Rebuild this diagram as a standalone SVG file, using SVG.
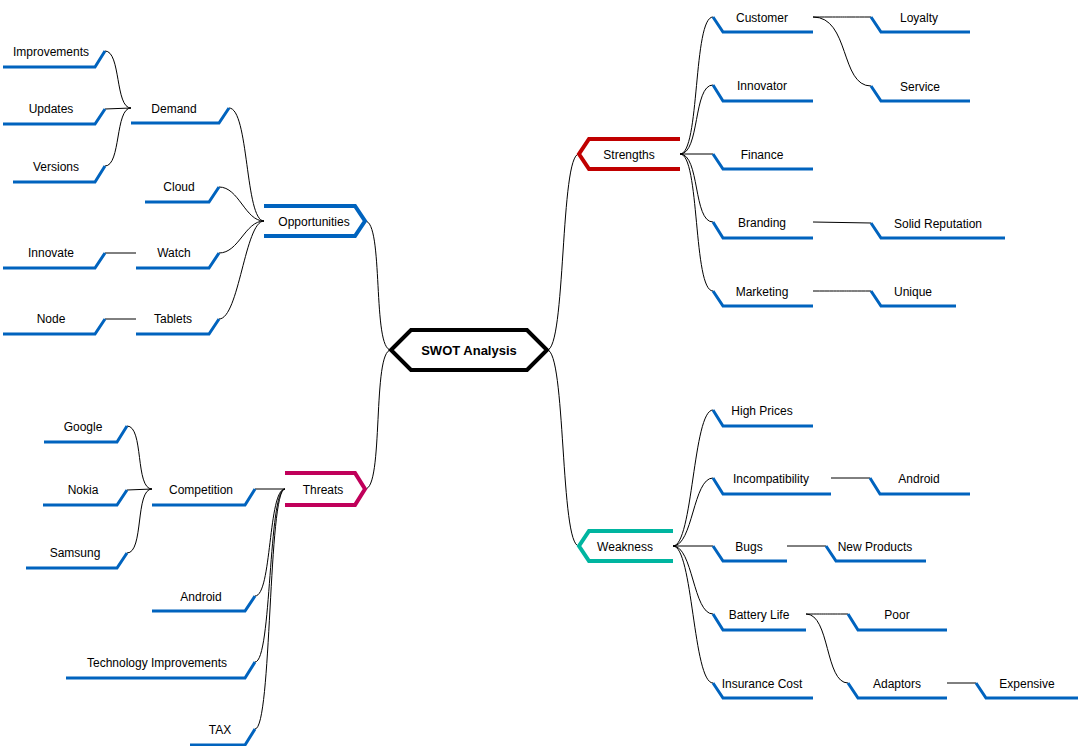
<svg xmlns="http://www.w3.org/2000/svg" width="1080" height="746" viewBox="0 0 1080 746">
<style>
text{font-family:"Liberation Sans",Arial,sans-serif;font-size:12px;fill:#000;text-anchor:middle}
.c{fill:none;stroke:#000;stroke-width:1}
.l{fill:none;stroke:#0063BE;stroke-width:3}
</style>
<rect width="1080" height="746" fill="#fff"/>
<g id="connectors">
<path class="c" d="M391,350 C372,350 384,221 365,221"/>
<path class="c" d="M391,350 C372,350 384,489 365,489"/>
<path class="c" d="M547,350 C566,350 560,154 579,154"/>
<path class="c" d="M547,350 C566,350 560,546 579,546"/>
<path class="c" d="M680,154 C700,154 693,17 713,17"/>
<path class="c" d="M680,154 C700,154 693,85 713,85"/>
<path class="c" d="M680,154 L713,154"/>
<path class="c" d="M680,154 C700,154 693,222 713,222"/>
<path class="c" d="M680,154 C700,154 693,291 713,291"/>
<path class="c" d="M813,17 C850,17 835,17 871,17"/>
<path class="c" d="M813,17 C850,17 840,86 871,86"/>
<path class="c" d="M813,222 L871,223"/>
<path class="c" d="M813,291 C850,291 840,291 871,291"/>
<path class="c" d="M673,546 C693,546 693,410 713,410"/>
<path class="c" d="M673,546 C693,546 693,478 713,478"/>
<path class="c" d="M673,546 L713,546"/>
<path class="c" d="M673,546 C693,546 693,614 713,614"/>
<path class="c" d="M673,546 C693,546 693,683 713,683"/>
<path class="c" d="M831,478 L870,478"/>
<path class="c" d="M787,546 L826,546"/>
<path class="c" d="M806,614 C830,614 825,614 848,614"/>
<path class="c" d="M806,614 C830,614 825,683 848,683"/>
<path class="c" d="M947,683 L976,683"/>
<path class="c" d="M264,221 C245,221 249,108 229,108"/>
<path class="c" d="M264,221 C245,221 239,187 219,187"/>
<path class="c" d="M264,221 C245,221 239,253 219,253"/>
<path class="c" d="M264,221 C245,221 239,319 219,319"/>
<path class="c" d="M131,108 C115,108 121,51 105,51"/>
<path class="c" d="M131,108 L105,109"/>
<path class="c" d="M131,108 C115,108 121,166 105,166"/>
<path class="c" d="M136,253 L105,253"/>
<path class="c" d="M136,319 L105,319"/>
<path class="c" d="M285,489 L255,489"/>
<path class="c" d="M285,489 C268,489 272,596 255,596"/>
<path class="c" d="M285,489 C268,489 272,662 255,662"/>
<path class="c" d="M285,489 C268,489 272,729 255,729"/>
<path class="c" d="M152,489 C135,489 144,426 127,426"/>
<path class="c" d="M152,489 L127,490"/>
<path class="c" d="M152,489 C135,489 144,553 127,553"/>
</g>
<g id="root"><path d="M391,350 L411,330 L527,330 L547,350 L527,370 L411,370 Z" fill="#fff" stroke="#000" stroke-width="4"/><text x="469" y="355" style="font-size:13px;font-weight:bold">SWOT Analysis</text></g>
<g id="strengths"><path d="M680,139 L589,139 L579,154 L589,169 L680,169" fill="none" stroke="#C00000" stroke-width="4"/><text x="629" y="159">Strengths</text></g>
<g id="weakness"><path d="M673,531 L589,531 L579,546 L589,561 L673,561" fill="none" stroke="#00B5A0" stroke-width="4"/><text x="625" y="551">Weakness</text></g>
<g id="opportunities"><path d="M264,206 L355,206 L365,221 L355,236 L264,236" fill="none" stroke="#0063BE" stroke-width="4"/><text x="314" y="226">Opportunities</text></g>
<g id="threats"><path d="M285,473 L355,473 L365,489 L355,505 L285,505" fill="none" stroke="#C0005A" stroke-width="4"/><text x="323" y="494">Threats</text></g>
<g id="customer"><path class="l" d="M713,17 L723,32 L813,32"/><text x="762" y="22">Customer</text></g>
<g id="innovator"><path class="l" d="M713,85 L723,101 L813,101"/><text x="762" y="90">Innovator</text></g>
<g id="finance"><path class="l" d="M713,154 L723,169 L813,169"/><text x="762" y="159">Finance</text></g>
<g id="branding"><path class="l" d="M713,222 L723,238 L813,238"/><text x="762" y="227">Branding</text></g>
<g id="marketing"><path class="l" d="M713,291 L723,306 L813,306"/><text x="762" y="296">Marketing</text></g>
<g id="loyalty"><path class="l" d="M871,17 L881,32 L970,32"/><text x="919" y="22">Loyalty</text></g>
<g id="service"><path class="l" d="M871,86 L881,101 L970,101"/><text x="920" y="91">Service</text></g>
<g id="solid"><path class="l" d="M871,223 L881,238 L1005,238"/><text x="938" y="228">Solid Reputation</text></g>
<g id="unique"><path class="l" d="M871,291 L881,306 L956,306"/><text x="913" y="296">Unique</text></g>
<g id="highprices"><path class="l" d="M713,410 L723,426 L813,426"/><text x="762" y="415">High Prices</text></g>
<g id="incompat"><path class="l" d="M713,478 L723,494 L831,494"/><text x="771" y="483">Incompatibility</text></g>
<g id="bugs"><path class="l" d="M713,546 L723,561 L787,561"/><text x="749" y="551">Bugs</text></g>
<g id="battery"><path class="l" d="M713,614 L723,630 L806,630"/><text x="759" y="619">Battery Life</text></g>
<g id="insurance"><path class="l" d="M713,683 L723,698 L813,698"/><text x="762" y="688">Insurance Cost</text></g>
<g id="android-r"><path class="l" d="M870,478 L880,494 L970,494"/><text x="919" y="483">Android</text></g>
<g id="newproducts"><path class="l" d="M826,546 L836,561 L926,561"/><text x="875" y="551">New Products</text></g>
<g id="poor"><path class="l" d="M848,614 L858,630 L947,630"/><text x="897" y="619">Poor</text></g>
<g id="adaptors"><path class="l" d="M848,683 L858,698 L947,698"/><text x="897" y="688">Adaptors</text></g>
<g id="expensive"><path class="l" d="M976,683 L986,698 L1078,698"/><text x="1027" y="688">Expensive</text></g>
<g id="demand"><path class="l" d="M229,108 L219,123 L131,123"/><text x="174" y="113">Demand</text></g>
<g id="cloud"><path class="l" d="M219,187 L209,202 L145,202"/><text x="179" y="191">Cloud</text></g>
<g id="watch"><path class="l" d="M219,253 L209,268 L136,268"/><text x="174" y="257">Watch</text></g>
<g id="tablets"><path class="l" d="M219,319 L209,334 L136,334"/><text x="173" y="323">Tablets</text></g>
<g id="improvements"><path class="l" d="M105,51 L95,67 L3,67"/><text x="51" y="56">Improvements</text></g>
<g id="updates"><path class="l" d="M105,109 L95,124 L3,124"/><text x="51" y="113">Updates</text></g>
<g id="versions"><path class="l" d="M105,166 L95,182 L13,182"/><text x="56" y="171">Versions</text></g>
<g id="innovate"><path class="l" d="M105,253 L95,268 L3,268"/><text x="51" y="257">Innovate</text></g>
<g id="node"><path class="l" d="M105,319 L95,334 L3,334"/><text x="51" y="323">Node</text></g>
<g id="competition"><path class="l" d="M255,489 L245,505 L152,505"/><text x="201" y="494">Competition</text></g>
<g id="android-l"><path class="l" d="M255,596 L245,611 L152,611"/><text x="201" y="601">Android</text></g>
<g id="techimp"><path class="l" d="M255,662 L245,678 L66,678"/><text x="157" y="667">Technology Improvements</text></g>
<g id="tax"><path class="l" d="M255,729 L245,745 L190,745"/><text x="220" y="734">TAX</text></g>
<g id="google"><path class="l" d="M127,426 L117,442 L44,442"/><text x="83" y="431">Google</text></g>
<g id="nokia"><path class="l" d="M127,490 L117,505 L43,505"/><text x="83" y="494">Nokia</text></g>
<g id="samsung"><path class="l" d="M127,553 L117,568 L26,568"/><text x="75" y="557">Samsung</text></g>
</svg>
